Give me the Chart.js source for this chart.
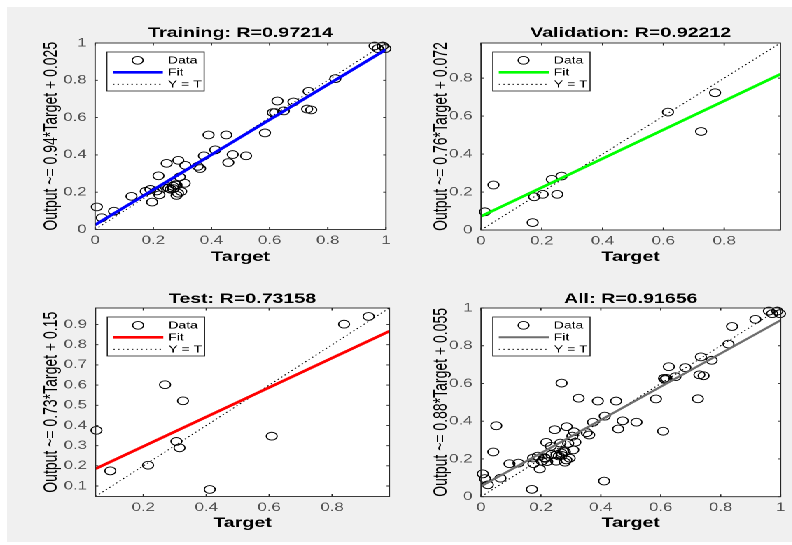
<!DOCTYPE html>
<html>
<head>
<meta charset="utf-8">
<script src="https://cdn.jsdelivr.net/npm/chart.js@4.4.1/dist/chart.umd.min.js"></script>
<style>
  html, body { margin: 0; padding: 0; background: #fff; }
  #fig { position: absolute; left: 0; top: 0; width: 792px; height: 545px; background: #fff; overflow: hidden; }
  #bg { position: absolute; left: 7px; top: 7px; right: 0; bottom: 3px; background: #f0f0f0; }
  /* the reference is stretched sideways, so draw narrow and widen it */
  #stretch { position: absolute; left: 0; top: 0; width: 566px; height: 545px; transform: scaleX(1.4); transform-origin: 0 0; }
  #stretch canvas { position: absolute; }
</style>
</head>
<body>
<div id="fig">
  <div id="bg"></div>
  <div id="stretch">
    <canvas id="cTrain" width="283" height="272" style="left:0;top:0"></canvas>
    <canvas id="cVal" width="283" height="272" style="left:283px;top:0"></canvas>
    <canvas id="cTest" width="283" height="273" style="left:0;top:272px"></canvas>
    <canvas id="cAll" width="283" height="273" style="left:283px;top:272px"></canvas>
  </div>
</div>
<script>
// ---- data ----
var trainTarget = [0.006, 0.023, 0.065, 0.125, 0.174, 0.19, 0.196, 0.212, 0.221, 0.218, 0.235, 0.246,
  0.252, 0.26, 0.268, 0.269, 0.275, 0.28, 0.28, 0.285, 0.286, 0.291, 0.296, 0.308, 0.31, 0.353, 0.361,
  0.374, 0.39, 0.413, 0.451, 0.458, 0.473, 0.519, 0.584, 0.611, 0.619, 0.627, 0.649, 0.682, 0.729,
  0.743, 0.734, 0.826, 0.961, 0.972, 0.989, 0.998];
var trainOutput = [0.121, 0.063, 0.098, 0.178, 0.205, 0.215, 0.147, 0.207, 0.186, 0.288, 0.223, 0.355,
  0.222, 0.216, 0.232, 0.219, 0.24, 0.238, 0.183, 0.195, 0.371, 0.282, 0.204, 0.248, 0.344, 0.339, 0.327,
  0.395, 0.507, 0.427, 0.507, 0.359, 0.402, 0.395, 0.518, 0.627, 0.627, 0.689, 0.636, 0.684, 0.646,
  0.641, 0.741, 0.809, 0.984, 0.970, 0.984, 0.970];

var valTarget = [0.013, 0.041, 0.17, 0.175, 0.203, 0.233, 0.251, 0.265, 0.615, 0.724, 0.77];
var valOutput = [0.096, 0.237, 0.039, 0.175, 0.188, 0.267, 0.188, 0.284, 0.621, 0.519, 0.723];

var testTarget = [0.051, 0.095, 0.215, 0.269, 0.305, 0.315, 0.326, 0.411, 0.608, 0.838, 0.916];
var testOutput = [0.376, 0.175, 0.203, 0.602, 0.321, 0.289, 0.522, 0.083, 0.347, 0.902, 0.94];

// "All" is the three sets together
var allTarget = trainTarget.concat(valTarget, testTarget);
var allOutput = trainOutput.concat(valOutput, testOutput);

// fit lines: [slope, intercept]
var trainFit = [0.94, 0.025];
var valFit = [0.76, 0.072];
var testFit = [0.73, 0.15];
var allFit = [0.88, 0.055];

var panelTitles = ['Training: R=0.97214', 'Validation: R=0.92212', 'Test: R=0.73158', 'All: R=0.91656'];
var yLabels = ['Output ~= 0.94*Target + 0.025', 'Output ~= 0.76*Target + 0.072',
  'Output ~= 0.73*Target + 0.15', 'Output ~= 0.88*Target + 0.055'];
var legendLabels = ['Data', 'Fit', 'Y = T'];

// axis limits [min, max] and tick step
var trainLimits = [0, 1], trainStep = 0.2;
var valLimits = [0, 0.985], valStep = 0.2;
var testLimits = [0.048, 0.982], testStepX = 0.2, testStepY = 0.1;
var allLimits = [0, 1], allStep = 0.2;

// ---- drawing ----
var FONT = "'Liberation Sans', Arial, Helvetica, sans-serif";
var AXIS_COLOR = '#262626';
var TICK_COLOR = '#505050';

var framePlugin = {
  id: 'frame',
  beforeDraw: function (chart) {
    var a = chart.chartArea, ctx = chart.ctx;
    ctx.save();
    ctx.fillStyle = '#fff';
    ctx.fillRect(a.left, a.top, a.right - a.left, a.bottom - a.top);
    ctx.restore();
  },
  afterDraw: function (chart) {
    var a = chart.chartArea, ctx = chart.ctx;
    var xs = chart.scales.x, ys = chart.scales.y;
    ctx.save();
    // box
    ctx.strokeStyle = AXIS_COLOR;
    ctx.lineWidth = 0.9;
    ctx.strokeRect(a.left, a.top, a.right - a.left, a.bottom - a.top);
    // inward ticks on every side
    ctx.beginPath();
    xs.ticks.forEach(function (t) {
      var px = xs.getPixelForValue(t.value);
      ctx.moveTo(px, a.bottom); ctx.lineTo(px, a.bottom - 2.5);
      ctx.moveTo(px, a.top); ctx.lineTo(px, a.top + 2.5);
    });
    ys.ticks.forEach(function (t) {
      var py = ys.getPixelForValue(t.value);
      ctx.moveTo(a.left, py); ctx.lineTo(a.left + 2, py);
      ctx.moveTo(a.right, py); ctx.lineTo(a.right - 2, py);
    });
    ctx.stroke();

    // legend box in the upper left corner
    var ds = chart.data.datasets;
    var lx = a.left + 8.4, ly = a.top + 9, lw = 69.5, lh = 39;
    ctx.fillStyle = '#fff';
    ctx.fillRect(lx, ly, lw, lh);
    ctx.strokeStyle = AXIS_COLOR;
    ctx.lineWidth = 0.8;
    ctx.strokeRect(lx, ly, lw, lh);
    ctx.font = '10px ' + FONT;
    ctx.textBaseline = 'middle';
    ctx.textAlign = 'left';
    ds.forEach(function (d, i) {
      var ry = ly + 8.3 + i * 12;
      if (i === 0) {
        ctx.beginPath();
        ctx.strokeStyle = '#000';
        ctx.lineWidth = d.pointBorderWidth;
        ctx.setLineDash([]);
        ctx.arc(lx + 22, ry, d.pointRadius, 0, Math.PI * 2);
        ctx.stroke();
      } else {
        ctx.beginPath();
        ctx.strokeStyle = d.borderColor;
        ctx.lineWidth = d.borderWidth;
        ctx.setLineDash(d.borderDash || []);
        ctx.moveTo(lx + 4.3, ry);
        ctx.lineTo(lx + 40, ry);
        ctx.stroke();
        ctx.setLineDash([]);
      }
      ctx.fillStyle = '#000';
      ctx.fillText(d.label, lx + 43.6, ry + 0.5);
    });
    ctx.restore();
  }
};

function fmt(v) {
  return String(parseFloat(Number(v).toFixed(2)));
}

function makePanel(id, g, title, yLabel, targets, outputs, fit, limits, stepX, stepY, fitColor, fitWidth) {
  var canvas = document.getElementById(id);
  var W = canvas.width, H = canvas.height;
  var lo = limits[0], hi = limits[1];
  var pts = targets.map(function (t, i) { return { x: t, y: outputs[i] }; });
  var fitPts = [lo, hi].map(function (t) { return { x: t, y: fit[0] * t + fit[1] }; });
  var idPts = [lo, hi].map(function (t) { return { x: t, y: t }; });

  return new Chart(canvas, {
    type: 'scatter',
    data: {
      datasets: [{
        label: legendLabels[0],
        data: pts,
        pointStyle: 'circle',
        pointRadius: 3.9,
        pointBorderWidth: 0.9,
        pointBorderColor: '#000',
        pointBackgroundColor: 'rgba(0,0,0,0)',
        clip: false,
        order: 3
      }, {
        label: legendLabels[1],
        data: fitPts,
        showLine: true,
        borderColor: fitColor,
        borderWidth: fitWidth,
        pointRadius: 0,
        order: 1
      }, {
        label: legendLabels[2],
        data: idPts,
        showLine: true,
        borderColor: '#000',
        borderWidth: 0.9,
        borderDash: [1.1, 2.2],
        pointRadius: 0,
        order: 2
      }]
    },
    options: {
      responsive: false,
      animation: false,
      devicePixelRatio: 2,
      events: [],
      layout: { padding: { left: 0, right: W - g.right, top: 0, bottom: 0 } },
      plugins: {
        legend: { display: false },
        tooltip: { enabled: false },
        title: {
          display: true,
          text: title,
          fullSize: false,
          color: '#000',
          font: { family: FONT, size: 14, weight: 'bold', lineHeight: 1.2 },
          padding: { top: g.titleY - 8.4, bottom: g.top - g.titleY - 8.4 }
        }
      },
      scales: {
        x: {
          type: 'linear',
          position: 'bottom',
          min: lo,
          max: hi,
          afterFit: function (s) { s.height = H - g.bottom; },
          grid: { display: false, drawTicks: false },
          border: { display: false },
          ticks: {
            stepSize: stepX,
            includeBounds: false,
            autoSkip: false,
            maxRotation: 0,
            padding: 4,
            color: TICK_COLOR,
            font: { family: FONT, size: 12 },
            callback: fmt
          },
          title: {
            display: true,
            text: 'Target',
            color: '#000',
            font: { family: FONT, size: 14, weight: 'bold', lineHeight: 1.2 },
            padding: { top: 0, bottom: H - g.targetY - 8.4 }
          }
        },
        y: {
          type: 'linear',
          position: 'left',
          min: lo,
          max: hi,
          afterFit: function (s) { s.width = g.left; },
          grid: { display: false, drawTicks: false },
          border: { display: false },
          ticks: {
            stepSize: stepY,
            includeBounds: false,
            autoSkip: false,
            padding: 6,
            color: TICK_COLOR,
            font: { family: FONT, size: 12 },
            callback: fmt
          },
          title: {
            display: true,
            text: yLabel,
            color: '#000',
            font: { family: FONT, size: 14, lineHeight: 1.2 },
            padding: { top: g.ylabX - 8.4, bottom: 0 }
          }
        }
      }
    },
    plugins: [framePlugin]
  });
}

// geometry in the narrow (unstretched) canvas coordinates
makePanel('cTrain', { left: 67.9, right: 277.9, top: 43, bottom: 229.5, titleY: 33, targetY: 257, ylabX: 36.8 },
  panelTitles[0], yLabels[0], trainTarget, trainOutput, trainFit, trainLimits, trainStep, trainStep, '#0000ff', 2.6);
makePanel('cVal', { left: 60.6, right: 274.5, top: 43, bottom: 230, titleY: 33, targetY: 257, ylabX: 32 },
  panelTitles[1], yLabels[1], valTarget, valOutput, valFit, valLimits, valStep, valStep, '#00ff00', 2.6);
makePanel('cTest', { left: 68.2, right: 278.6, top: 36, bottom: 224.5, titleY: 27, targetY: 251, ylabX: 36.8 },
  panelTitles[2], yLabels[2], testTarget, testOutput, testFit, testLimits, testStepX, testStepY, '#ff0000', 2.6);
makePanel('cAll', { left: 60.6, right: 274.6, top: 36, bottom: 224.7, titleY: 27, targetY: 251.3, ylabX: 32 },
  panelTitles[3], yLabels[3], allTarget, allOutput, allFit, allLimits, allStep, allStep, '#6e6e6e', 2.0);
</script>
</body>
</html>
